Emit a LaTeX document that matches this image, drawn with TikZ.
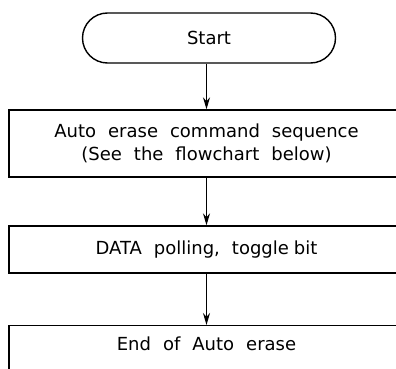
\documentclass[tikz,border=0pt]{standalone}
\usepackage{fontspec}
\setmainfont{DejaVu Sans}
\usetikzlibrary{arrows.meta}
\begin{document}
\begin{tikzpicture}[x=1pt,y=-1pt,
		every node/.style={font=\fontsize{18}{23}\selectfont,execute at begin node={\spaceskip=12pt\relax}},
		box/.style={draw,line width=1.4pt,minimum width=395pt,align=center,inner sep=0pt},
		term/.style={draw,line width=1.4pt,rounded corners=25pt,minimum width=253pt,minimum height=50pt},
		arr/.style={line width=1.3pt,-{Stealth[length=12pt,width=7pt]}}]
		\useasboundingbox (0,0) rectangle (396,369);
		\clip (0,0) rectangle (396,369);
		\node[term] (start) at (209,38) {Start};
		\node[box,minimum height=67pt] (erase) at (206.5,143.5) {Auto erase command sequence\\(See the flowchart below)};
		\node[box,minimum height=47pt] (poll) at (206.5,249.5) {DATA polling, toggle\hspace{5pt}bit};
		\node[box,anchor=north,text height=25pt,text depth=40pt] (done) at (206.5,325) {End of Auto erase};
		\draw[arr] (erase.north |- start.south) -- (erase.north);
		\draw[arr] (erase.south) -- (poll.north);
		\draw[arr] (poll.south) -- (done.north);
	\end{tikzpicture}
\end{document}
